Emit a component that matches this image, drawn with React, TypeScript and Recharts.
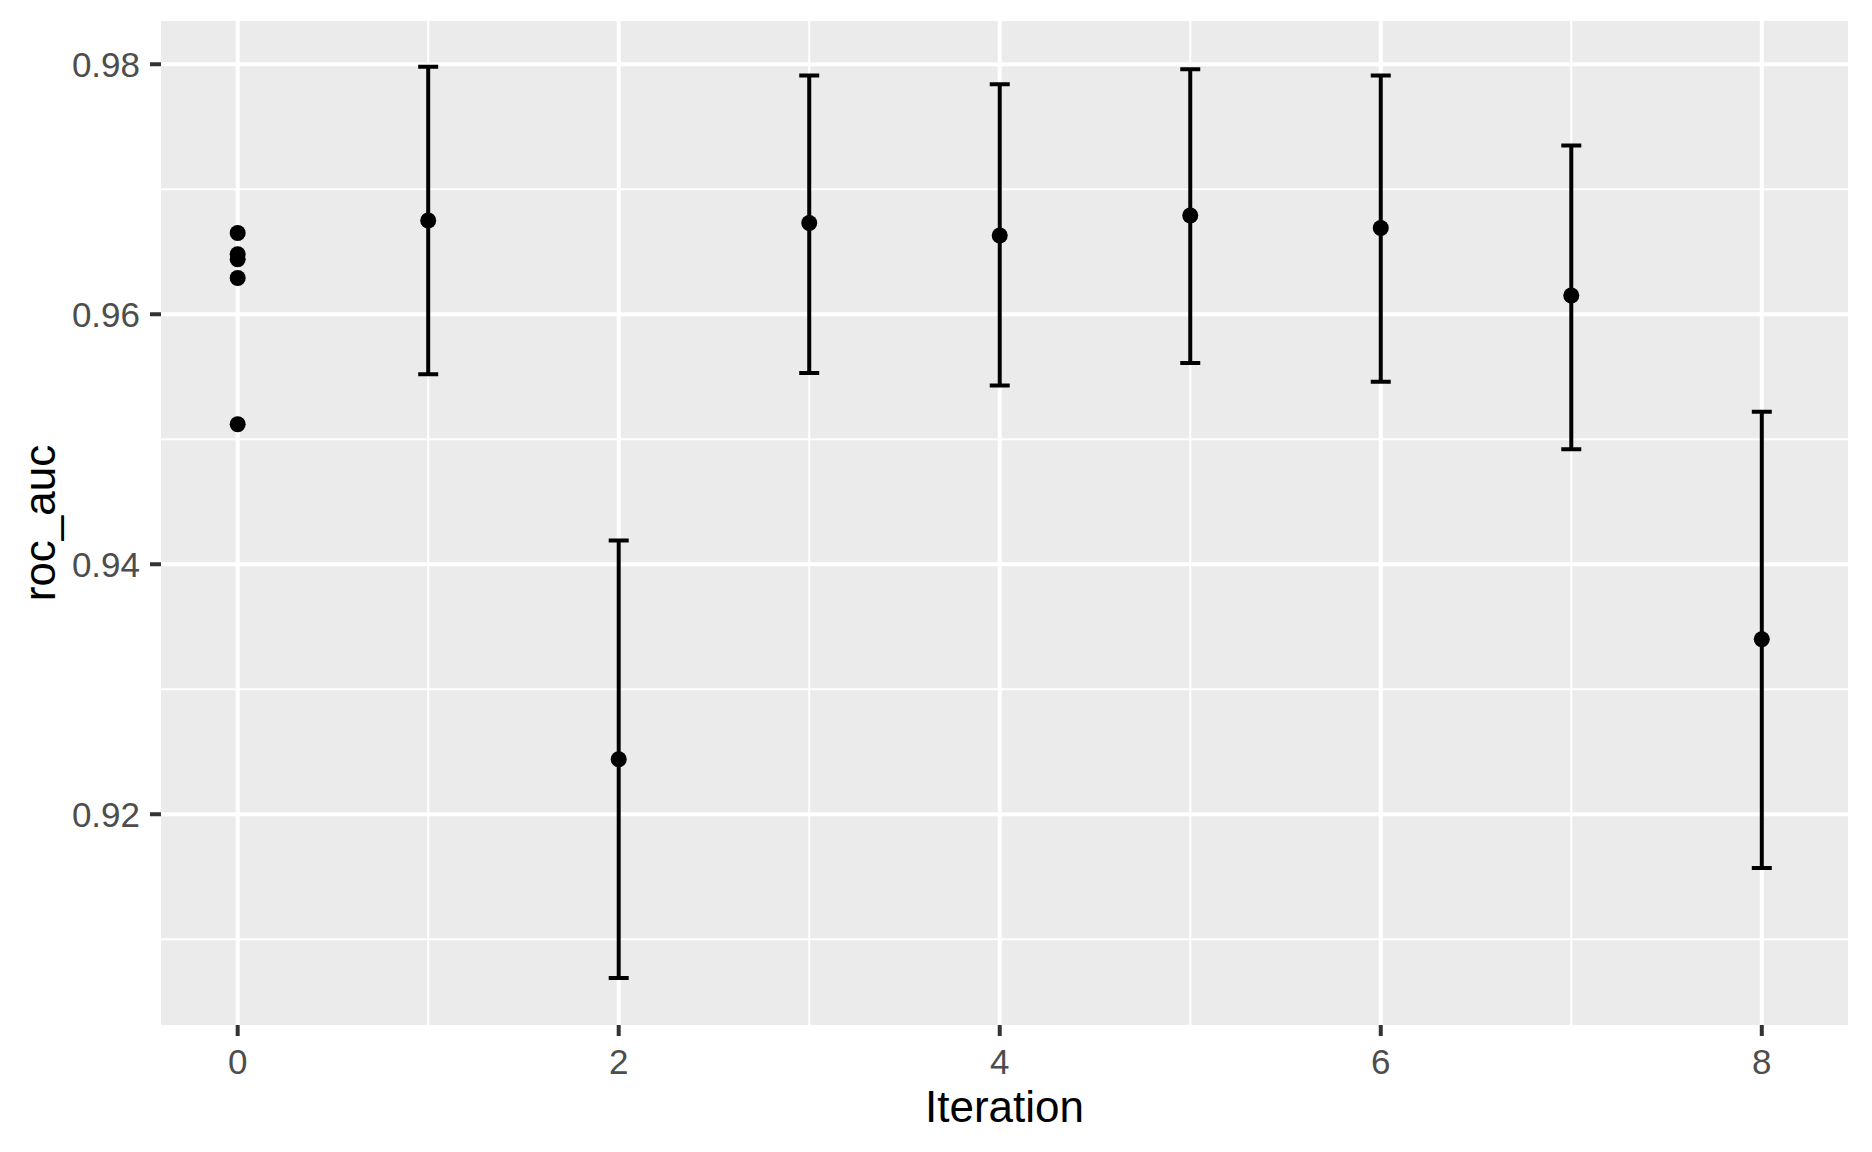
import {
  ComposedChart,
  Scatter,
  ErrorBar,
  XAxis,
  YAxis,
  CartesianGrid,
  Label,
} from "recharts";

// iteration 0 has several raw runs, no spread shown
const baselineRuns = [0.9665, 0.9648, 0.9644, 0.9629, 0.9512];

// iterations 1..8: mean with lower/upper bounds
const iterations = [1, 2, 3, 4, 5, 6, 7, 8];
const meanAuc = [0.9675, 0.9244, 0.9673, 0.9663, 0.9679, 0.9669, 0.9615, 0.934];
const lowerAuc = [0.9552, 0.9069, 0.9553, 0.9543, 0.9561, 0.9546, 0.9492, 0.9157];
const upperAuc = [0.9798, 0.9419, 0.9791, 0.9784, 0.9796, 0.9791, 0.9735, 0.9522];

const xTicks = [0, 2, 4, 6, 8];
const xMinor = [1, 3, 5, 7];
const yTicks = [0.92, 0.94, 0.96, 0.98];
const yMinor = [0.91, 0.93, 0.95, 0.97];

const baselineData = baselineRuns.map((v) => ({ x: 0, y: v }));
const summaryData = iterations.map((it, i) => ({
  x: it,
  y: meanAuc[i],
  err: [meanAuc[i] - lowerAuc[i], upperAuc[i] - meanAuc[i]],
}));

const FONT = "'Liberation Sans', Arial, sans-serif";

const dot = (p: any) => <circle cx={p.cx} cy={p.cy} r={8} fill="#000000" />;

export default function App() {
  return (
    <div style={{ position: "absolute", left: 0, top: 0, background: "#fff", fontFamily: FONT }}>
      <ComposedChart
        width={1872}
        height={1152}
        margin={{ top: 21, right: 24, bottom: 0, left: 0 }}
      >
        <CartesianGrid
          fill="#EBEBEB"
          stroke="#FFFFFF"
          strokeWidth={2}
          horizontalValues={yMinor}
          verticalValues={xMinor}
        />
        <CartesianGrid
          stroke="#FFFFFF"
          strokeWidth={4}
          horizontalValues={yTicks}
          verticalValues={xTicks}
        />
        <XAxis
          type="number"
          dataKey="x"
          domain={[-0.4025, 8.4525]}
          ticks={xTicks}
          allowDataOverflow
          height={127}
          axisLine={false}
          tickSize={11}
          tickMargin={13}
          tickLine={{ stroke: "#333333", strokeWidth: 4 }}
          tick={{ fill: "#4D4D4D", fontSize: 35, fontFamily: FONT }}
        >
          <Label
            value="Iteration"
            position="insideBottom"
            offset={30}
            style={{ fill: "#000000", fontSize: 44, fontFamily: FONT }}
          />
        </XAxis>
        <YAxis
          type="number"
          dataKey="y"
          domain={[0.90314, 0.98346]}
          ticks={yTicks}
          allowDataOverflow
          width={161}
          axisLine={false}
          tickSize={11}
          tickMargin={10}
          tickFormatter={(v: number) => v.toFixed(2)}
          tickLine={{ stroke: "#333333", strokeWidth: 4 }}
          tick={{ fill: "#4D4D4D", fontSize: 35, fontFamily: FONT }}
        >
          <Label
            value="roc_auc"
            angle={-90}
            position="insideLeft"
            offset={39}
            style={{ fill: "#000000", fontSize: 44, fontFamily: FONT, textAnchor: "middle" }}
          />
        </YAxis>
        <Scatter data={baselineData} shape={dot} isAnimationActive={false} />
        <Scatter data={summaryData} shape={dot} isAnimationActive={false}>
          <ErrorBar
            dataKey="err"
            direction="y"
            width={10}
            stroke="#000000"
            strokeWidth={4}
            isAnimationActive={false}
          />
        </Scatter>
      </ComposedChart>
    </div>
  );
}
